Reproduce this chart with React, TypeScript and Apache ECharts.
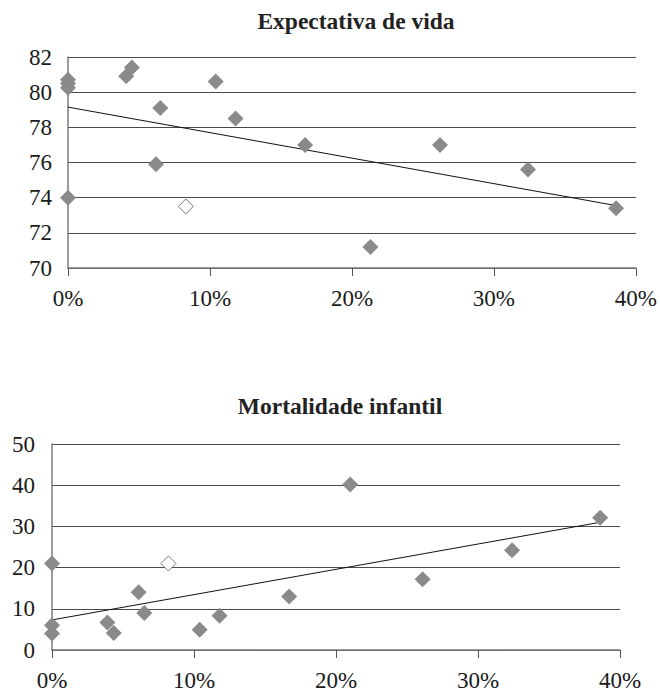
import React, { useEffect, useRef } from "react";
import * as echarts from "echarts";

const xTicksMax = 40;
const lifeTitle = "Expectativa de vida";
const mortTitle = "Mortalidade infantil";

const lifeX = [0, 0, 0, 0, 4.1, 4.5, 6.2, 6.5, 10.4, 11.8, 16.7, 21.3, 26.2, 32.4, 38.6];
const lifeY = [80.7, 80.5, 80.25, 74.0, 80.9, 81.4, 75.9, 79.1, 80.6, 78.5, 77.0, 71.2, 77.0, 75.6, 73.4];
const lifeHollow = [8.3, 73.5];
const lifeTrend = [[0, 79.15], [38.6, 73.55]];

const mortX = [0, 0, 0, 3.9, 4.35, 6.1, 6.5, 10.4, 11.8, 16.7, 21.0, 26.1, 32.4, 38.6];
const mortY = [21, 6, 4, 6.7, 4.1, 14, 9, 4.9, 8.3, 13, 40.2, 17.2, 24.2, 32.1];
const mortHollow = [8.2, 21];
const mortTrend = [[0, 7.3], [38.6, 31.0]];

const FONT = "Liberation Serif";
const GRAY = "#8a8a8a";

function xAxis(gridIndex: number) {
  return {
    type: "value",
    gridIndex,
    min: 0,
    max: xTicksMax,
    interval: 10,
    axisLine: { show: true, lineStyle: { color: "#7a7a7a", width: 1.5 } },
    axisTick: { show: true, inside: false, length: 8, lineStyle: { color: "#555", width: 1 } },
    axisLabel: {
      formatter: "{value}%",
      color: "#1a1a1a",
      fontFamily: FONT,
      fontSize: 23,
      margin: 19,
    },
    splitLine: { show: false },
  };
}

function yAxis(gridIndex: number, min: number, max: number, interval: number, margin: number) {
  return {
    type: "value",
    gridIndex,
    min,
    max,
    interval,
    axisLine: { show: true, lineStyle: { color: "#7a7a7a", width: 1.5 } },
    axisTick: { show: false },
    axisLabel: { color: "#1a1a1a", fontFamily: FONT, fontSize: 23, margin },
    splitLine: { show: true, lineStyle: { color: "#4a4a4a", width: 1.2 } },
  };
}

export default function App() {
  const ref = useRef<HTMLDivElement>(null);
  useEffect(() => {
    if (!ref.current) return;
    const chart = echarts.init(ref.current, null, { renderer: "svg" });
    const lifePts = lifeX.map((x, i) => [x, lifeY[i]]);
    const mortPts = mortX.map((x, i) => [x, mortY[i]]);
    chart.setOption({
      animation: false,
      backgroundColor: "#fff",
      title: [
        {
          text: lifeTitle,
          left: 351,
          top: 4,
          textAlign: "center",
          textStyle: { fontFamily: FONT, fontSize: 23.5, fontWeight: "bold", color: "#222" },
        },
        {
          text: mortTitle,
          left: 335,
          top: 389,
          textAlign: "center",
          textStyle: { fontFamily: FONT, fontSize: 23.5, fontWeight: "bold", color: "#222" },
        },
      ],
      grid: [
        { left: 68, top: 57, width: 568, height: 211 },
        { left: 52, top: 444, width: 568, height: 210 },
      ],
      xAxis: [xAxis(0), xAxis(1)],
      yAxis: [yAxis(0, 70, 82, 2, 16), yAxis(1, 0, 50, 10, 17)],
      series: [
        {
          type: "line",
          xAxisIndex: 0,
          yAxisIndex: 0,
          data: lifeTrend,
          symbol: "none",
          lineStyle: { color: "#111", width: 1 },
          z: 3,
        },
        {
          type: "scatter",
          xAxisIndex: 0,
          yAxisIndex: 0,
          data: lifePts,
          symbol: "diamond",
          symbolSize: 16,
          itemStyle: { color: GRAY, opacity: 1 },
          z: 4,
        },
        {
          type: "scatter",
          xAxisIndex: 0,
          yAxisIndex: 0,
          data: [lifeHollow],
          symbol: "diamond",
          symbolSize: 15,
          itemStyle: { color: "#fff", borderColor: "#777", borderWidth: 1, opacity: 1 },
          z: 4,
        },
        {
          type: "line",
          xAxisIndex: 1,
          yAxisIndex: 1,
          data: mortTrend,
          symbol: "none",
          lineStyle: { color: "#111", width: 1 },
          z: 3,
        },
        {
          type: "scatter",
          xAxisIndex: 1,
          yAxisIndex: 1,
          data: mortPts,
          symbol: "diamond",
          symbolSize: 16,
          itemStyle: { color: GRAY, opacity: 1 },
          z: 4,
        },
        {
          type: "scatter",
          xAxisIndex: 1,
          yAxisIndex: 1,
          data: [mortHollow],
          symbol: "diamond",
          symbolSize: 15,
          itemStyle: { color: "#fff", borderColor: "#777", borderWidth: 1, opacity: 1 },
          z: 4,
        },
      ],
    });
    return () => chart.dispose();
  }, []);
  return (
    <div
      ref={ref}
      style={{ position: "fixed", left: 0, top: 0, width: 660, height: 692, background: "#fff" }}
    />
  );
}
